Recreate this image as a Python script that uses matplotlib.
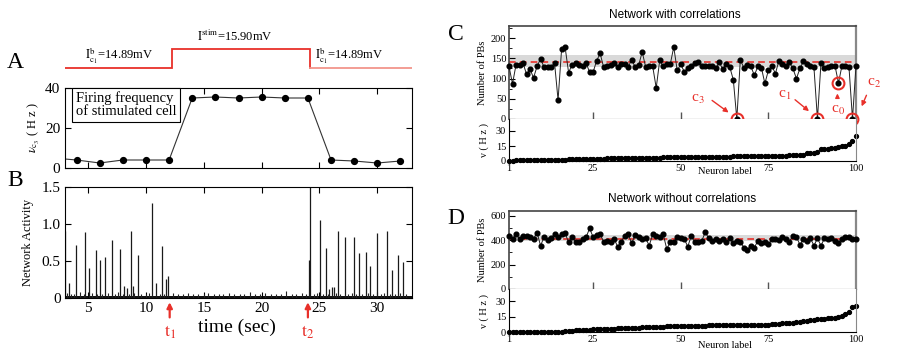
import matplotlib
matplotlib.use("Agg")
import matplotlib.pyplot as plt
import numpy as np

plt.rcParams['font.family'] = ['Liberation Serif', 'DejaVu Serif']
plt.rcParams['mathtext.fontset'] = 'stix'

# ---------------- data ----------------
# Panel A: stimulus current steps and firing frequency of stimulated cell
step_times = [3.0, 12.25, 24.2, 33.0]
step_levels = [14.89, 15.90, 14.89]
freq_t = [2, 4, 6, 8, 10, 12, 14, 16, 18, 20, 22, 24, 26, 28, 30, 32]
freq_v = [5.0, 4.0, 2.5, 4.0, 4.0, 4.0, 35.0, 35.5, 35.0, 35.5, 35.0, 35.0, 4.0, 3.5, 2.5, 3.5]

# Panel B: network activity (population bursts)
burst_t = [3.01, 3.36, 3.93, 4.74, 5.09, 5.66, 6.04, 6.44, 7.10, 7.74, 8.11, 8.34, 8.69,
           8.92, 9.27, 10.56, 10.85, 11.37, 11.71, 11.94, 24.08, 24.16, 25.06, 25.55, 25.84,
           26.07, 26.27, 26.56, 27.22, 28.00, 28.43, 29.00, 29.38, 30.01, 30.88, 31.31,
           31.80, 32.18]
burst_h = [0.90, 0.20, 0.72, 0.89, 0.40, 0.65, 0.52, 0.55, 0.78, 0.66, 0.16, 0.13, 0.90,
           0.16, 0.58, 1.28, 0.20, 0.70, 0.26, 0.30, 0.52, 1.60, 1.06, 0.67, 0.12,
           0.15, 0.15, 0.90, 0.83, 0.82, 0.61, 0.62, 0.43, 0.88, 0.90, 0.38,
           0.58, 0.48]
noise_t = [3.2, 3.5, 3.8, 4.3, 4.6, 5.3, 5.8, 6.2, 6.7, 7.3, 7.6, 8.0, 8.5, 9.0, 9.6, 10.0,
           10.3, 11.2, 11.6, 12.3, 12.8, 13.2, 13.6, 14.1, 14.5, 15.0, 15.4, 15.9, 16.3,
           16.7, 17.2, 17.6, 18.1, 18.5, 19.0, 19.4, 19.9, 20.3, 20.8, 21.2, 21.7, 22.1,
           22.6, 23.0, 23.5, 23.8, 24.5, 24.8, 25.3, 25.7, 26.4, 26.8, 27.5, 27.8, 28.2,
           28.7, 29.2, 29.6, 30.3, 30.6, 31.1, 31.5, 32.0, 32.5]
noise_h = [0.07, 0.05, 0.06, 0.08, 0.05, 0.07, 0.06, 0.05, 0.07, 0.06, 0.08, 0.05, 0.06,
           0.07, 0.05, 0.06, 0.07, 0.06, 0.05, 0.07, 0.05, 0.06, 0.07, 0.05, 0.06, 0.05,
           0.07, 0.06, 0.05, 0.06, 0.07, 0.05, 0.06, 0.05, 0.08, 0.06, 0.05, 0.07, 0.06,
           0.05, 0.06, 0.09, 0.05, 0.06, 0.07, 0.05, 0.06, 0.07, 0.05, 0.06, 0.07, 0.05,
           0.06, 0.07, 0.05, 0.06, 0.07, 0.05, 0.06, 0.07, 0.05, 0.06, 0.07, 0.05]

# Panel C: network with correlations
neuron = list(range(1, 101))
pb_corr = [130, 87, 134, 134, 138, 111, 123, 102, 130, 149,
           128, 128, 128, 138, 47, 172, 178, 115, 134, 138,
           133, 130, 138, 116, 116, 144, 162, 128, 130, 133,
           138, 128, 135, 135, 128, 147, 128, 133, 166, 128,
           130, 130, 77, 145, 130, 135, 135, 178, 120, 135,
           117, 125, 132, 138, 140, 130, 130, 130, 132, 125,
           140, 123, 137, 128, 97, 0, 147, 126, 133, 130,
           108, 130, 127, 88, 120, 132, 112, 144, 135, 130,
           140, 125, 100, 125, 143, 135, 130, 128, 0, 138,
           127, 128, 130, 132, 89, 132, 130, 128, 0, 132]
rate_corr = [0.5, 0.5, 0.6, 0.6, 0.7, 0.7, 0.8, 0.8, 0.9, 1.0,
             1.0, 1.1, 1.2, 1.3, 1.4, 1.5, 1.5, 1.6, 1.7, 1.8,
             1.9, 2.0, 2.1, 2.2, 2.3, 2.4, 2.5, 2.5, 2.6, 2.7,
             2.8, 2.9, 3.0, 3.0, 3.1, 3.1, 3.2, 3.2, 3.3, 3.3,
             3.4, 3.4, 3.5, 3.5, 3.6, 3.6, 3.7, 3.7, 3.8, 3.8,
             3.9, 3.9, 4.0, 4.0, 4.1, 4.1, 4.2, 4.2, 4.3, 4.3,
             4.4, 4.4, 4.5, 4.5, 4.6, 4.6, 4.7, 4.7, 4.8, 4.8,
             4.9, 4.9, 5.0, 5.0, 5.1, 5.1, 5.2, 5.3, 5.4, 5.5,
             5.6, 5.7, 5.8, 6.0, 6.3, 8.0, 8.2, 8.4, 8.6, 12.0,
             12.2, 12.4, 12.8, 13.5, 14.2, 14.8, 15.5, 17.0, 20.0, 25.0]
c_band = (128, 158)
c_mean = 142
marked = [66, 89, 95, 99]

# Panel D: network without correlations
pb_uncorr = [438, 411, 449, 411, 438, 435, 430, 411, 463, 356,
             425, 403, 416, 449, 430, 449, 457, 384, 425, 389,
             389, 411, 425, 498, 425, 444, 449, 389, 397, 384,
             411, 348, 389, 438, 449, 375, 444, 430, 411, 416,
             356, 449, 438, 430, 449, 329, 384, 389, 425, 416,
             411, 348, 435, 384, 389, 395, 466, 416, 397, 408,
             397, 411, 384, 416, 375, 397, 389, 340, 321, 356,
             340, 395, 381, 389, 367, 408, 411, 403, 425, 411,
             389, 435, 430, 362, 411, 395, 416, 356, 416, 356,
             416, 411, 416, 395, 381, 411, 425, 430, 411, 411]
rate_uncorr = [0.2, 0.2, 0.2, 0.2, 0.2, 0.2, 0.2, 0.2, 0.2, 0.2,
               0.2, 0.2, 0.2, 0.3, 0.3, 0.4, 0.5, 0.8, 1.2, 1.5,
               1.8, 2.0, 2.2, 2.3, 2.5, 2.6, 2.8, 2.9, 3.0, 3.2,
               3.3, 3.5, 3.6, 3.8, 3.9, 4.0, 4.2, 4.3, 4.5, 4.6,
               4.8, 4.9, 5.0, 5.2, 5.3, 5.4, 5.5, 5.6, 5.8, 6.0,
               6.0, 6.1, 6.1, 6.2, 6.2, 6.3, 6.3, 6.4, 6.4, 6.5,
               6.5, 6.6, 6.6, 6.7, 6.7, 6.8, 6.8, 6.9, 6.9, 7.0,
               7.0, 7.1, 7.1, 7.2, 7.3, 7.6, 7.9, 8.2, 8.5, 8.7,
               9.0, 9.2, 9.5, 9.8, 10.3, 11.0, 11.5, 12.0, 12.3, 12.6,
               12.9, 13.2, 13.6, 14.0, 14.5, 15.2, 17.5, 20.0, 24.0, 25.0]
d_band = (390, 440)
d_mean = 411

# ---------------- layout ----------------
W, H = 899, 361
fig = plt.figure(figsize=(W / 100, H / 100), dpi=100)


def px_axes(l, t, r, b):
    return fig.add_axes([l / W, 1 - b / H, (r - l) / W, (b - t) / H])


def ftext(x, y, s, **kw):
    return fig.text(x / W, 1 - y / H, s, **kw)


RED = '#e8302a'

# ---- A: stimulus steps ----
axs = px_axes(65, 30, 412, 75)
axs.set_xlim(3, 33)
axs.set_ylim(14.517, 16.91)
axs.axis('off')
axs.plot([step_times[0], step_times[1], step_times[1], step_times[2], step_times[2]],
         [step_levels[0], step_levels[0], step_levels[1], step_levels[1], step_levels[2]],
         color=RED, lw=1.3, solid_joinstyle='miter')
axs.plot([step_times[2], step_times[3]], [step_levels[2], step_levels[2]],
         color='#f2958b', lw=1.3)
axs.text(7.7, 15.55, r'$\mathrm{I}^{\mathrm{b}}_{\mathrm{c}_1}$=14.89mV', ha='center', va='center', fontsize=9)
axs.text(17.7, 16.55, r'$\mathrm{I}^{\mathrm{stim}}$=15.90mV', ha='center', va='center', fontsize=9)
axs.text(27.6, 15.55, r'$\mathrm{I}^{\mathrm{b}}_{\mathrm{c}_1}$=14.89mV', ha='center', va='center', fontsize=9)

# ---- A: firing frequency ----
axa = px_axes(65, 88, 412, 168)
axa.plot(freq_t, freq_v, color='#333333', lw=0.8, marker='o', ms=4.2, mfc='k', mec='k')
axa.set_xlim(3, 33)
axa.set_ylim(0, 40)
axa.set_yticks([0, 20, 40])
axa.set_xticks([5, 10, 15, 20, 25, 30])
axa.tick_params(direction='in', top=True, right=True, labelbottom=False, labelsize=11, length=4)
axa.set_ylabel(r'$\nu_{\mathrm{c}_3}$ ( H z )', fontsize=9, labelpad=2)
axa.text(0.032, 0.79, 'Firing frequency\nof stimulated cell', transform=axa.transAxes,
         ha='left', va='center', fontsize=10.5, linespacing=1.0,
         bbox=dict(boxstyle='square,pad=0.25', fc='white', ec='black', lw=0.8))

# ---- B: network activity ----
axb = px_axes(65, 187, 412, 298)
axb.fill_between([3, 33], 0, 0.032, color='#111111', lw=0)
axb.vlines(noise_t, 0, noise_h, color='#222222', lw=0.8)
axb.vlines(burst_t, 0, burst_h, color='#1a1a1a', lw=0.9)
axb.set_xlim(3, 33)
axb.set_ylim(0, 1.5)
axb.set_yticks([0, 0.5, 1.0, 1.5])
axb.set_yticklabels(['0', '0.5', '1.0', '1.5'])
axb.set_xticks([5, 10, 15, 20, 25, 30])
axb.tick_params(direction='in', top=True, right=True, labelsize=11, length=4, pad=3)
axb.set_ylabel('Network Activity', fontsize=9, labelpad=6)
ftext(237, 327, 'time (sec)', fontsize=14, ha='center', va='center')
for tt, lab, xp in [(12.05, r'$\mathrm{t}_1$', 169), (24.0, r'$\mathrm{t}_2$', 307)]:
    axb.annotate('', xy=(tt, -0.02), xytext=(tt, -0.30), xycoords='data',
                 arrowprops=dict(arrowstyle='-|>', color=RED, lw=1.6, mutation_scale=8),
                 annotation_clip=False)
    ftext(xp + 1, 332, lab, fontsize=13, color=RED, ha='center', va='center')

ftext(15, 62, 'A', fontsize=17, ha='center', va='center')
ftext(15, 181, 'B', fontsize=17, ha='center', va='center')


# ---- C / D panels ----
def style_upper(ax, ymax, yticks, minor):
    ax.set_xlim(1, 100)
    ax.set_ylim(0, ymax)
    ax.set_yticks(yticks)
    ax.set_yticks(minor, minor=True)
    ax.set_xticks([25, 50, 75])
    ax.tick_params(axis='x', direction='in', length=5, width=1.0, color='#555555',
                   labelbottom=False)
    ax.tick_params(axis='y', which='both', direction='in', labelsize=7.5, pad=2)
    ax.tick_params(axis='y', which='major', length=4)
    ax.tick_params(axis='y', which='minor', length=2.5)
    for s in ['top', 'left']:
        ax.spines[s].set_color('#444444')
        ax.spines[s].set_linewidth(1.2)
    ax.spines['right'].set_color('#888888')
    ax.spines['right'].set_linewidth(1.6)
    ax.spines['bottom'].set_color('black')
    ax.set_ylabel('Number of PBs', fontsize=7.5, labelpad=3)


def style_lower(ax):
    ax.set_xlim(1, 100)
    ax.set_ylim(0, 42)
    ax.set_yticks([0, 15, 30])
    ax.set_xticks([1, 25, 50, 75, 100])
    ax.tick_params(axis='x', direction='in', length=0, labelsize=7.5, pad=2)
    ax.tick_params(axis='y', direction='in', length=4, labelsize=7.5, pad=2)
    ax.spines['top'].set_visible(False)
    ax.spines['right'].set_color('#888888')
    ax.set_ylabel('ν ( H z )', fontsize=7.5, labelpad=5)


# C upper
axc = px_axes(509, 26, 856, 119)
axc.axhspan(c_band[0], c_band[1], color='#d9d9d9', lw=0, zorder=0)
axc.axhline(c_mean, color=RED, lw=1.2, ls=(0, (4, 2.5)), zorder=1)
axc.plot(neuron, pb_corr, color='#222222', lw=0.7, marker='o', ms=3.4, mfc='k', mec='k',
         zorder=3, clip_on=False)
style_upper(axc, 230, [0, 50, 100, 150, 200], [25, 75, 125, 175, 225])
axc.plot(marked, [pb_corr[i - 1] for i in marked], ls='none', marker='o', ms=8.5, mfc='none',
         mec=RED, mew=1.5, clip_on=False, zorder=4)
ann = [('c$_3$', (64.3, 12), (58.3, 50), (54.9, 49)),
       ('c$_1$', (87.2, 15), (82.0, 52), (79.5, 59)),
       ('c$_2$', (101.3, 25), (103.3, 65), (105.0, 89))]
for lab, head, tail, tpos in ann:
    axc.annotate('', xy=head, xytext=tail,
                 arrowprops=dict(arrowstyle='-|>', color=RED, lw=1.0, mutation_scale=7),
                 annotation_clip=False)
    axc.text(tpos[0], tpos[1], lab, color=RED, fontsize=11, ha='center', va='center',
             clip_on=False)
axc.annotate('', xy=(94.7, 70), xytext=(94.7, 45),
             arrowprops=dict(arrowstyle='-|>', color=RED, lw=1.0, mutation_scale=6),
             annotation_clip=False)
axc.text(95.0, 22, 'c$_0$', color=RED, fontsize=11, ha='center', va='center', clip_on=False)

# C lower
axcl = px_axes(509, 119, 856, 161)
axcl.plot(neuron, rate_corr, ls='none', marker='o', ms=2.8, mfc='k', mec='k', clip_on=False)
style_lower(axcl)

# D upper
axd = px_axes(509, 211, 856, 289)
axd.axhspan(d_band[0], d_band[1], color='#d9d9d9', lw=0, zorder=0)
axd.axhline(d_mean, color=RED, lw=1.2, ls=(0, (4, 2.5)), zorder=1)
axd.plot(neuron, pb_uncorr, color='#222222', lw=0.7, marker='o', ms=3.4, mfc='k', mec='k',
         zorder=3, clip_on=False)
style_upper(axd, 640, [0, 200, 400, 600], [100, 300, 500])

# D lower
axdl = px_axes(509, 289, 856, 332)
axdl.plot(neuron, rate_uncorr, ls='none', marker='o', ms=2.8, mfc='k', mec='k', clip_on=False)
style_lower(axdl)

ftext(675, 15, 'Network with correlations', fontsize=8.5, ha='center', va='center',
      family=['Liberation Sans', 'DejaVu Sans'])
ftext(682, 199, 'Network without correlations', fontsize=8.5, ha='center', va='center',
      family=['Liberation Sans', 'DejaVu Sans'])
ftext(725, 172, 'Neuron label', fontsize=7.5, ha='center', va='center')
ftext(725, 346, 'Neuron label', fontsize=7.5, ha='center', va='center')
ftext(456, 35, 'C', fontsize=17, ha='center', va='center')
ftext(456, 219, 'D', fontsize=17, ha='center', va='center')

fig.savefig('out.png', dpi=100)
